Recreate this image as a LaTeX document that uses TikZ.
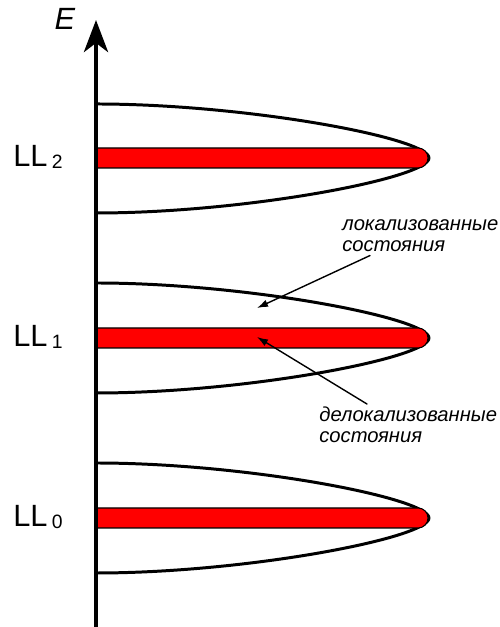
\documentclass[tikz,border=0pt]{standalone}
\usepackage{fontspec}
\setmainfont{Liberation Sans}
\usetikzlibrary{arrows.meta}

\newcommand{\lvlname}[1]{%
  {\fontsize{17.5}{20}\selectfont LL}\kern2.5pt%
  \raisebox{-0.9pt}{\fontsize{11}{12}\selectfont #1}}

\begin{document}
\begin{tikzpicture}[
  line cap=round,
  line join=round,
  level/.style={line width=1.7pt},
  band/.style={fill=red,draw=black,line width=0.6pt},
  axisline/.style={
    line width=2.6pt,
    line cap=butt,
    -{Stealth[length=6.4mm,width=4.8mm,inset=1.8mm]}
  },
  pointer/.style={
    line width=0.8pt,
    -{Latex[length=2.2mm,width=1.5mm]}
  },
  note/.style={
    inner sep=0pt,
    align=left,
    font=\fontsize{11.5}{12.5}\selectfont\itshape
  }
]
  \useasboundingbox (-1.92,-0.1) rectangle (8.08,12.44);

  % Уровень LL_0: центр y = 2.08
  \draw[level]
    (0,3.18)
    .. controls (3.0,3.18) and (6.66,2.48) .. (6.66,2.08)
    .. controls (6.66,1.68) and (3.0,0.98) .. (0,0.98);

  \draw[band]
    (0,2.28) -- (6.44,2.28)
    arc[start angle=90,end angle=-90,radius=0.2]
    -- (0,1.88) -- cycle;

  \node[anchor=base west,inner sep=0pt] (ll0)
    at (-1.66,1.90) {\lvlname{0}};

  % Уровень LL_1: центр y = 5.68
  \draw[level]
    (0,6.78)
    .. controls (3.0,6.78) and (6.66,6.08) .. (6.66,5.68)
    .. controls (6.66,5.28) and (3.0,4.58) .. (0,4.58);

  \draw[band]
    (0,5.88) -- (6.44,5.88)
    arc[start angle=90,end angle=-90,radius=0.2]
    -- (0,5.48) -- cycle;

  \node[anchor=base west,inner sep=0pt] (ll1)
    at (-1.66,5.50) {\lvlname{1}};

  % Уровень LL_2: центр y = 9.28
  \draw[level]
    (0,10.36)
    .. controls (3.0,10.36) and (6.66,9.68) .. (6.66,9.28)
    .. controls (6.66,8.88) and (3.0,8.18) .. (0,8.18);

  \draw[band]
    (0,9.48) -- (6.44,9.48)
    arc[start angle=90,end angle=-90,radius=0.2]
    -- (0,9.08) -- cycle;

  \node[anchor=base west,inner sep=0pt] (ll2)
    at (-1.66,9.10) {\lvlname{2}};

  % Ось энергии
  \coordinate (O) at (0,-0.1);
  \coordinate (Etop) at (0,12.04);

  \draw[axisline] (O) -- (Etop);

  \node[anchor=base,inner sep=0pt] (Elbl)
    at (-0.62,11.84)
    {\fontsize{17.5}{20}\selectfont\itshape E};

  % Подписи состояний (base = последняя строка)
  \node[note,anchor=base west] (loc)
    at (4.92,7.40)
    {локализованные\\состояния};

  \node[note,anchor=base west] (deloc)
    at (4.46,3.58)
    {делокализованные\\состояния};

  \coordinate (locpt) at (3.22,6.28);
  \coordinate (delocpt) at (3.22,5.70);

  \draw[pointer]
    ([xshift=0.56cm,yshift=-0.06cm]loc.south west) -- (locpt);

  \draw[pointer]
    ([xshift=0.96cm,yshift=0.04cm]deloc.north west) -- (delocpt);
\end{tikzpicture}
\end{document}
